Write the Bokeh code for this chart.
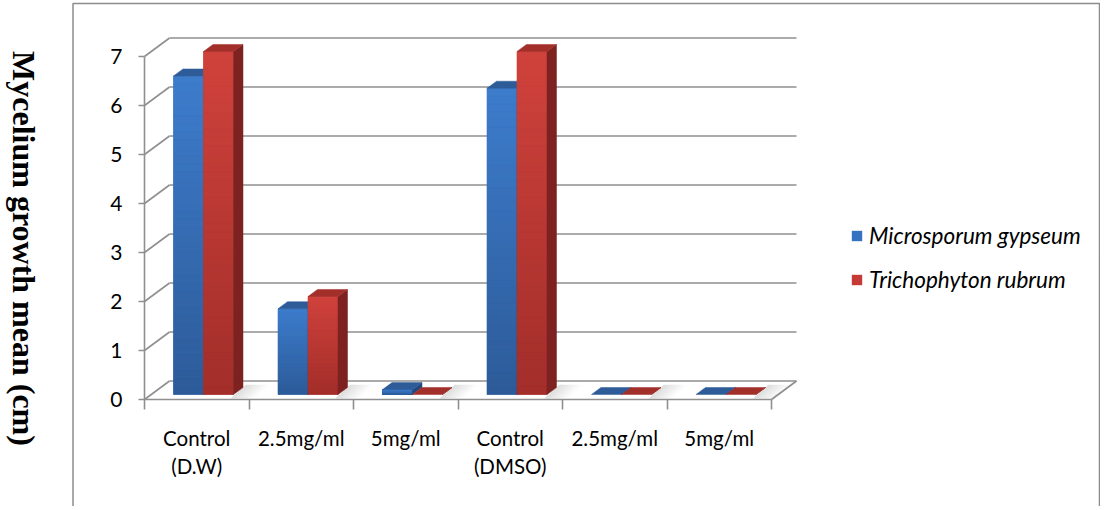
import numpy as np
from bokeh.plotting import figure
from bokeh.models import Range1d, LinearAxis, FixedTicker, Label, Legend, LegendItem, ColumnDataSource
from bokeh.embed import file_html
from bokeh.resources import INLINE

# ---------------- data ----------------
categories = ["Control\n(D.W)", "2.5mg/ml", "5mg/ml", "Control\n(DMSO)", "2.5mg/ml", "5mg/ml"]
microsporum_gypseum = [6.5, 1.75, 0.1, 6.25, 0.0, 0.0]
trichophyton_rubrum = [7.0, 2.0, 0.0, 7.0, 0.0, 0.0]
series_names = ["Microsporum gypseum", "Trichophyton rubrum"]
y_ticks = [0, 1, 2, 3, 4, 5, 6, 7]
y_title = "Mycelium growth mean (cm)"

# ---------------- layout / style (pixels) ----------------
FIG_W, FIG_H = 1100, 506
BOX_L, BOX_T, BOX_R = 72.5, 3, 1099
AX_X = 144            # front value axis
AX_Y = 399            # front floor edge
CAT_PX = 104.5        # px per category
UNIT_PX = 49.0        # px per cm
WALL_DX, WALL_DY = 25 / CAT_PX, 18.5 / UNIT_PX   # depth of floor / back wall
BAR_W = 30 / CAT_PX
BAR_D0, BAR_D1 = 0.27, 0.65                      # bar depth position (fraction)
GRID = "#8f8f8f"
FONT = "Lato"

def fx(px):
    return (px - AX_X) / CAT_PX

def fy(py):
    return (AX_Y - py) / UNIT_PX

n = len(categories)
p = figure(width=FIG_W, height=FIG_H,
           x_range=Range1d(fx(0), fx(FIG_W)), y_range=Range1d(fy(FIG_H), fy(0)),
           output_backend="svg", toolbar_location=None,
           x_axis_location=None, y_axis_location=None,
           min_border_left=0, min_border_right=0, min_border_top=0, min_border_bottom=0,
           outline_line_color=None, background_fill_color="white", border_fill_color="white")
p.xgrid.grid_line_color = None
p.ygrid.grid_line_color = None

# outer chart-area box (left, top, right)
p.line([fx(BOX_L), fx(BOX_L), fx(BOX_R), fx(BOX_R)],
       [fy(FIG_H + 5), fy(BOX_T), fy(BOX_T), fy(FIG_H + 5)], line_color="#8c8c8c", line_width=1.5)

# back wall gridlines and side connectors
top = max(y_ticks)
p.segment(x0=[WALL_DX] * len(y_ticks), y0=[k + WALL_DY for k in y_ticks],
          x1=[n + WALL_DX] * len(y_ticks), y1=[k + WALL_DY for k in y_ticks],
          line_color=GRID, line_width=1.6)
p.segment(x0=[0] * len(y_ticks), y0=y_ticks, x1=[WALL_DX] * len(y_ticks),
          y1=[k + WALL_DY for k in y_ticks], line_color=GRID, line_width=1.6)
p.segment(x0=[n], y0=[0], x1=[n + WALL_DX], y1=[WALL_DY], line_color=GRID, line_width=1.6)

# ---------------- 3-D bars ----------------
def lerp(c0, c1, t):
    a = [int(c0[i:i + 2], 16) for i in (1, 3, 5)]
    b = [int(c1[i:i + 2], 16) for i in (1, 3, 5)]
    return "#%02x%02x%02x" % tuple(int(round(a[i] + (b[i] - a[i]) * t)) for i in range(3))

styles = [
    dict(bottom="#2d5b98", top="#3d7ccc", base="#3572c0", lid="#2e5c98", side="#24497c", off=-1),
    dict(bottom="#a22e2a", top="#d0423c", base="#c53a35", lid="#a32f2b", side="#7d2220", off=0),
]
base_y = BAR_D0 * WALL_DY
dX = (BAR_D1 - BAR_D0) * WALL_DX
dY = (BAR_D1 - BAR_D0) * WALL_DY

# soft floor shadows to the right of each bar pair
SH_W = 24 / CAT_PX
NS = 10
sx, sy, sa = [], [], []
for i in range(n):
    x0 = i + 0.5 + BAR_D0 * WALL_DX + BAR_W - 0.3 * dX
    for j in range(NS):
        a0 = x0 + SH_W * j / NS
        a1 = x0 + SH_W * (j + 1) / NS
        sx.append([a0, a1, a1 + dX * 1.6, a0 + dX * 1.6])
        sy.append([0.02, 0.02, base_y + dY * 1.4, base_y + dY * 1.4])
        sa.append(0.26 * (1 - (j + 0.5) / NS))
p.patches(source=ColumnDataSource(dict(xs=sx, ys=sy, a=sa)), xs="xs", ys="ys",
          fill_color="#7a7a7a", fill_alpha="a", line_color=None)

NB = 40
legend_renderers = []
for values, st in zip([microsporum_gypseum, trichophyton_rubrum], styles):
    lefts = [i + 0.5 + BAR_D0 * WALL_DX + st["off"] * BAR_W for i in range(n)]
    rights = [l + BAR_W for l in lefts]
    tops = [base_y + v for v in values]
    # solid base of the front faces
    r = p.quad(left=lefts, right=rights, bottom=[base_y] * n, top=tops,
               fill_color=st["base"], line_color=None)
    legend_renderers.append(r)
    # vertical shading of the front faces
    L, R, B, T, C = [], [], [], [], []
    for l, rr, v in zip(lefts, rights, values):
        if v <= 0:
            continue
        for j in range(NB):
            L.append(l); R.append(rr)
            B.append(base_y + v * j / NB); T.append(base_y + v * (j + 1) / NB)
            C.append(lerp(st["bottom"], st["top"], (j + 0.5) / NB))
    p.quad(source=ColumnDataSource(dict(l=L, r=R, b=B, t=T, c=C)),
           left="l", right="r", bottom="b", top="t",
           fill_color="c", line_color="c", line_width=0.6)
    # right side faces
    p.patches(xs=[[rr, rr, rr + dX, rr + dX] for rr in rights],
              ys=[[base_y, t, t + dY, base_y + dY] for t in tops],
              fill_color=st["side"], line_color=st["side"], line_width=0.5)
    # top faces
    p.patches(xs=[[l, rr, rr + dX, l + dX] for l, rr in zip(lefts, rights)],
              ys=[[t, t, t + dY, t + dY] for t in tops],
              fill_color=st["lid"], line_color=st["lid"], line_width=0.5)

# ---------------- axes ----------------
yax = LinearAxis(fixed_location=0, ticker=FixedTicker(ticks=y_ticks), bounds=(0, top),
                 axis_line_color=GRID, axis_line_width=1.6,
                 major_tick_line_color=GRID, major_tick_line_width=1.6,
                 major_tick_out=6, major_tick_in=0, minor_tick_out=0, minor_tick_in=0,
                 major_label_standoff=16, major_label_text_font=FONT,
                 major_label_text_font_size="21px", major_label_text_color="black")
p.add_layout(yax, "left")

centers = [i + 0.5 for i in range(n)]
xax = LinearAxis(fixed_location=0,
                 ticker=FixedTicker(ticks=centers, minor_ticks=list(range(n + 1))),
                 bounds=(0, n), major_label_overrides={c: lab for c, lab in zip(centers, categories)},
                 axis_line_color=GRID, axis_line_width=1.6,
                 major_tick_line_color=None, major_tick_out=0, major_tick_in=0,
                 minor_tick_line_color=GRID, minor_tick_line_width=1.6,
                 minor_tick_out=10, minor_tick_in=0,
                 major_label_standoff=16, major_label_text_font=FONT,
                 major_label_text_font_size="20.5px", major_label_text_color="black")
p.add_layout(xax, "below")

# ---------------- legend ----------------
legend = Legend(items=[LegendItem(label=nm, renderers=[r]) for nm, r in zip(series_names, legend_renderers)],
                location=(850, 213), orientation="vertical",
                glyph_width=13, glyph_height=13, label_standoff=6, spacing=17,
                padding=0, margin=0, border_line_color=None, background_fill_alpha=0,
                label_text_font=FONT, label_text_font_style="italic",
                label_text_font_size="22.5px", label_text_color="black")
p.add_layout(legend)

# ---------------- axis title ----------------
p.add_layout(Label(x=fx(23), y=fy(248), text=y_title,
                   angle=-np.pi / 2, text_align="center", text_baseline="middle",
                   text_font="Liberation Serif", text_font_style="bold",
                   text_font_size="32px", text_color="black"))

open("out.html", "w").write(file_html(p, INLINE))
